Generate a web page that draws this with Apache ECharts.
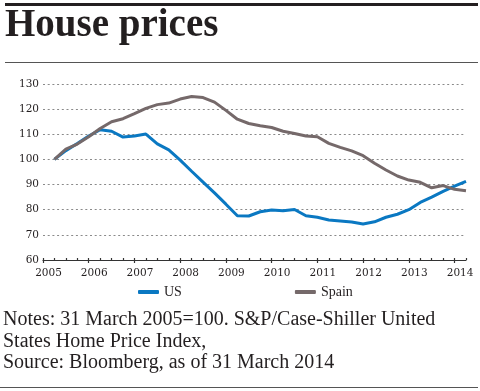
<!DOCTYPE html>
<html>
<head>
<meta charset="utf-8">
<script src="https://cdn.jsdelivr.net/npm/echarts@6/dist/echarts.min.js"></script>
<style>html,body{margin:0;padding:0;background:#fff}#c{width:480px;height:391px}</style>
</head>
<body>
<div id="c"></div>
<script>
var quarters = [2005.25,2005.5,2005.75,2006,2006.25,2006.5,2006.75,2007,2007.25,2007.5,2007.75,2008,2008.25,2008.5,2008.75,2009,2009.25,2009.5,2009.75,2010,2010.25,2010.5,2010.75,2011,2011.25,2011.5,2011.75,2012,2012.25,2012.5,2012.75,2013,2013.25,2013.5,2013.75,2014,2014.25];
var us = [100,103.5,106.3,109.3,111.8,111.2,108.9,109.3,110.1,106.2,103.8,99.7,95.3,91.0,86.7,82.2,77.6,77.5,79.2,79.9,79.6,80.1,77.6,77.0,75.9,75.5,75.1,74.3,75.2,77.0,78.2,80.0,82.9,85.0,87.3,89.4,91.3];
var spain = [100,104.1,106.1,109.0,112.3,115.0,116.2,118.2,120.3,121.8,122.4,124.0,125.0,124.6,122.8,119.5,116.0,114.3,113.4,112.7,111.2,110.3,109.3,109.0,106.4,104.8,103.4,101.5,98.5,95.8,93.4,91.8,90.9,88.7,89.6,88.1,87.5];
var yearLabels = ['2005','2006','2007','2008','2009','2010','2011','2012','2013','2014'];
var seriesNames = ['US','Spain'];
var titleText = 'House prices';
var notesText = 'Notes: 31 March 2005=100. S&P/Case-Shiller United\nStates Home Price Index,\nSource: Bloomberg, as of 31 March 2014';

function pairs(xs, ys){ return xs.map(function(x,i){ return [x, ys[i]]; }); }

var ink = '#231f20';
var chart = echarts.init(document.getElementById('c'), null, {renderer:'canvas'});
chart.setOption({
  animation:false,
  backgroundColor:'#fff',
  grid:{left:43,right:14,top:84,bottom:131,containLabel:false},
  legend:{
    data:seriesNames, left:138, top:285, padding:0, itemGap:113,
    itemWidth:21, itemHeight:4, icon:'roundRect',
    textStyle:{fontFamily:'Liberation Serif',fontSize:14,color:ink}
  },
  xAxis:[{
    type:'value', min:2005, max:2014.25, interval:1,
    axisLine:{show:true,lineStyle:{color:'#333',width:1.2}},
    axisTick:{show:true,inside:false,length:3,lineStyle:{color:'#333',width:1.2}},
    axisLabel:{show:true,margin:8,showMaxLabel:false,padding:[0,0,0,11],
      fontFamily:'DejaVu Serif',fontSize:10.5,color:ink,
      formatter:function(v){ var i=Math.round(v-2005); return (Math.abs(v-Math.round(v))<1e-6 && yearLabels[i]) ? yearLabels[i] : ''; }},
    splitLine:{show:false}
  },{
    type:'value', min:2005, max:2014.25, interval:0.25, position:'bottom',
    axisLine:{show:false},
    axisTick:{show:true,inside:true,length:2,lineStyle:{color:'#333',width:1.2}},
    axisLabel:{show:false}, splitLine:{show:false}
  }],
  yAxis:{
    type:'value', min:60, max:130, interval:10,
    axisLine:{show:false}, axisTick:{show:false},
    axisLabel:{margin:4,fontFamily:'DejaVu Serif',fontSize:10.5,color:ink},
    splitLine:{show:true,lineStyle:{color:'#8a8a8a',width:1,type:[2,2.7]}}
  },
  series:[
    {name:seriesNames[0],type:'line',xAxisIndex:0,data:pairs(quarters,us),showSymbol:false,symbol:'none',
     lineStyle:{color:'#0a78c2',width:3},itemStyle:{color:'#0a78c2'},z:3},
    {name:seriesNames[1],type:'line',xAxisIndex:0,data:pairs(quarters,spain),showSymbol:false,symbol:'none',
     lineStyle:{color:'#75696a',width:3},itemStyle:{color:'#75696a'},z:4}
  ],
  graphic:[
    {type:'rect',shape:{x:5,y:3,width:473,height:3},style:{fill:ink}},
    {type:'text',x:5,y:6,style:{text:titleText,font:'bold 39px "Liberation Serif"',fill:ink,align:'left',verticalAlign:'top'}},
    {type:'rect',shape:{x:5,y:62,width:473,height:1},style:{fill:'#555'}},
    {type:'text',x:3,y:309.5,style:{text:notesText,font:'20px "Liberation Serif"',lineHeight:21.3,fill:ink,align:'left',verticalAlign:'top'}},
    {type:'rect',shape:{x:0,y:387,width:478,height:1},style:{fill:'#555'}}
  ]
});
</script>
</body>
</html>
